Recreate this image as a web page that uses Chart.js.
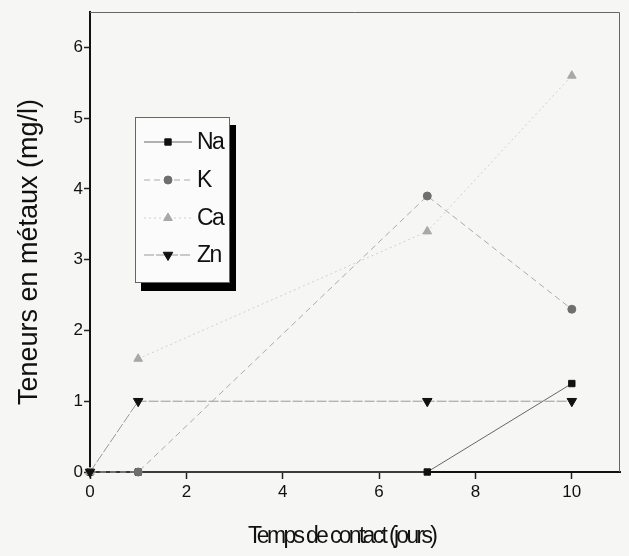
<!DOCTYPE html>
<html>
<head>
<meta charset="utf-8">
<script src="https://cdn.jsdelivr.net/npm/chart.js@4/dist/chart.umd.min.js"></script>
<style>
  html, body { margin: 0; padding: 0; background: #f6f6f4; }
  #wrap { width: 629px; height: 556px; }
</style>
</head>
<body>
<div id="wrap"><canvas id="c" width="629" height="556"></canvas></div>
<script>
// Contact time (days) and metal contents (mg/l)
const days = [0, 1, 7, 10];
const na = [0, 0, 0, 1.25];
const k  = [0, 0, 3.9, 2.3];
const ca = [0, 1.6, 3.4, 5.6];
const zn = [0, 1, 1, 1];
const seriesNames = ['Na', 'K', 'Ca', 'Zn'];
const xTicks = [0, 2, 4, 6, 8, 10];
const yTicks = [0, 1, 2, 3, 4, 5, 6];
const yTitle = 'Teneurs en métaux (mg/l)';
const xTitle = 'Temps de contact (jours)';

const FONT = '"Liberation Sans", Arial, sans-serif';

function pts(ys) { return days.map((d, i) => ({ x: d, y: ys[i] })); }

const styles = [
  { color: '#111', line: '#666', dash: [], style: 'rect', radius: 4.5, rot: 0 },
  { color: '#6f6f6f', line: '#aaaaaa', dash: [6, 4], style: 'circle', radius: 4, rot: 0 },
  { color: '#a8a8a8', line: '#cfcfcf', dash: [2, 3], style: 'triangle', radius: 5, rot: 0 },
  { color: '#111', line: '#999', dash: [10, 2], style: 'triangle', radius: 5.5, rot: 180 }
];

const datasets = [na, k, ca, zn].map((vals, i) => ({
  label: seriesNames[i],
  data: pts(vals),
  showLine: true,
  borderColor: styles[i].line,
  borderWidth: 1,
  borderDash: styles[i].dash,
  pointStyle: styles[i].style,
  pointRadius: styles[i].radius,
  pointRotation: styles[i].rot,
  pointBackgroundColor: styles[i].color,
  pointBorderColor: styles[i].color,
  pointBorderWidth: 1,
  clip: false,
  order: 4 - i
}));
// the Ca trace starts at its day-1 reading
datasets[2].segment = { borderColor: c => (c.p0DataIndex === 0 ? 'rgba(0,0,0,0)' : undefined) };

// Frame, axis titles and the shadowed legend box
const decorations = {
  id: 'decorations',
  beforeDatasetsDraw(chart) {
    const { ctx, chartArea: a } = chart;
    ctx.save();
    ctx.strokeStyle = '#666';
    ctx.lineWidth = 1;
    ctx.beginPath();
    ctx.moveTo(a.left, a.top + 0.5);
    ctx.lineTo(a.right - 0.5, a.top + 0.5);
    ctx.lineTo(a.right - 0.5, a.bottom);
    ctx.stroke();
    ctx.restore();
  },
  afterDraw(chart) {
    const { ctx } = chart;
    ctx.save();
    // y title
    ctx.fillStyle = '#111';
    ctx.font = '27px ' + FONT;
    ctx.textAlign = 'center';
    ctx.textBaseline = 'middle';
    ctx.translate(30, 252);
    ctx.rotate(-Math.PI / 2);
    ctx.fillText(yTitle, 0, 0);
    ctx.restore();

    // x title, tightly set
    ctx.save();
    ctx.fillStyle = '#111';
    ctx.font = '23px ' + FONT;
    const natural = ctx.measureText(xTitle).width;
    const target = 190;
    ctx.letterSpacing = ((target - natural) / (xTitle.length - 1)).toFixed(2) + 'px';
    ctx.textAlign = 'left';
    ctx.textBaseline = 'alphabetic';
    ctx.fillText(xTitle, 248, 543);
    ctx.restore();

    // legend
    const L = { x: 135, y: 117, w: 95, h: 166, sh: 6 };
    ctx.save();
    ctx.fillStyle = '#000';
    ctx.fillRect(L.x + L.sh, L.y + L.sh + 2, L.w, L.h);
    ctx.fillStyle = '#fbfbfb';
    ctx.fillRect(L.x, L.y, L.w, L.h);
    ctx.strokeStyle = '#666';
    ctx.lineWidth = 1;
    ctx.strokeRect(L.x + 0.5, L.y + 0.5, L.w - 1, L.h - 1);
    const rows = [142, 180, 218, 255];
    chart.data.datasets.forEach((ds, i) => {
      const y = rows[i];
      ctx.strokeStyle = ds.borderColor;
      ctx.lineWidth = 1;
      ctx.setLineDash(ds.borderDash);
      ctx.beginPath();
      ctx.moveTo(144, y);
      ctx.lineTo(192, y);
      ctx.stroke();
      ctx.setLineDash([]);
      ctx.fillStyle = ds.pointBackgroundColor;
      ctx.strokeStyle = ds.pointBorderColor;
      Chart.helpers.drawPoint(ctx, {
        pointStyle: ds.pointStyle,
        radius: ds.pointRadius,
        rotation: ds.pointRotation,
        borderWidth: 1
      }, 168, y);
      ctx.fillStyle = '#111';
      ctx.font = '23px ' + FONT;
      ctx.letterSpacing = '-1.5px';
      ctx.textAlign = 'left';
      ctx.textBaseline = 'middle';
      ctx.fillText(ds.label, 197, y + 1);
      ctx.letterSpacing = '0px';
    });
    ctx.restore();
  }
};

new Chart(document.getElementById('c'), {
  type: 'scatter',
  data: { datasets },
  options: {
    responsive: false,
    animation: false,
    devicePixelRatio: 1,
    layout: { padding: { top: 12, right: 9, left: 0, bottom: 0 } },
    plugins: { legend: { display: false }, tooltip: { enabled: false } },
    scales: {
      x: {
        type: 'linear',
        min: 0,
        max: 11,
        afterFit(s) { s.height = 84; },
        afterBuildTicks(s) { s.ticks = xTicks.map(v => ({ value: v })); },
        ticks: { color: '#111', font: { family: FONT, size: 17 }, padding: 3 },
        grid: { drawOnChartArea: false, tickLength: 7, tickColor: '#222', tickWidth: 1.5 },
        border: { color: '#111', width: 2 }
      },
      y: {
        type: 'linear',
        min: 0,
        max: 6.5,
        afterFit(s) { s.width = 90; },
        afterBuildTicks(s) { s.ticks = yTicks.map(v => ({ value: v })); },
        ticks: { color: '#111', font: { family: FONT, size: 17 }, padding: 1 },
        grid: { drawOnChartArea: false, tickLength: 6, tickColor: '#222', tickWidth: 1.5 },
        border: { color: '#111', width: 2 }
      }
    }
  },
  plugins: [decorations]
});
</script>
</body>
</html>
